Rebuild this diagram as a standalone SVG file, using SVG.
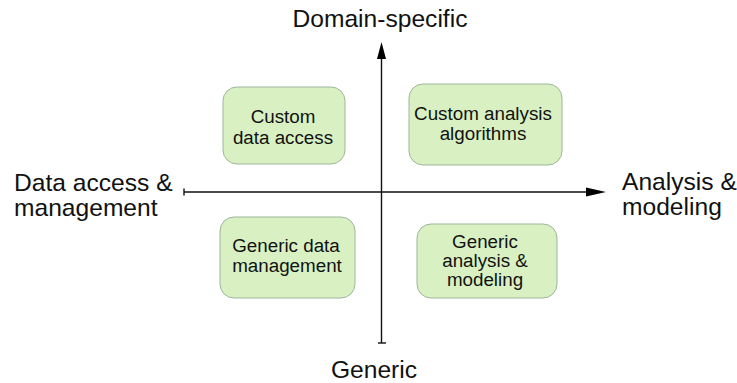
<svg xmlns="http://www.w3.org/2000/svg" width="737" height="383" viewBox="0 0 737 383">
  <style>
    .box { fill: #d9f1c2; stroke: #9db59a; stroke-width: 1; }
    .lbl { font-family: "Liberation Sans", Arial, sans-serif; font-size: 18.8px; fill: #111; text-anchor: middle; }
    .axis-lbl { font-family: "Liberation Sans", Arial, sans-serif; font-size: 24.6px; fill: #111; }
    .axis { stroke: #111; stroke-width: 1.4; fill: none; }
  </style>
  <rect width="737" height="383" fill="#ffffff"/>

  <!-- Axes -->
  <g id="connectors">
    <line class="axis" x1="184" y1="192" x2="590" y2="192"/>
    <line class="axis" x1="184" y1="188.5" x2="184" y2="195.5"/>
    <polygon points="586,187.5 606,192 586,196.5" fill="#000"/>
    <line class="axis" x1="381.5" y1="343" x2="381.5" y2="55"/>
    <line class="axis" x1="378" y1="343" x2="386" y2="343"/>
    <polygon points="377,59 381.5,42 386,59" fill="#000"/>
  </g>

  <!-- Axis labels -->
  <g id="axis-labels">
    <text class="axis-lbl" x="380" y="27" text-anchor="middle">Domain-specific</text>
    <text class="axis-lbl" x="374" y="378" text-anchor="middle">Generic</text>
    <text class="axis-lbl" x="14" y="191">Data access &amp;</text>
    <text class="axis-lbl" x="14" y="216">management</text>
    <text class="axis-lbl" x="622" y="190">Analysis &amp;</text>
    <text class="axis-lbl" x="622" y="215">modeling</text>
  </g>

  <!-- Quadrant nodes -->
  <g id="custom-data-access">
    <rect class="box" x="223" y="87" width="122" height="77" rx="14"/>
    <text class="lbl" x="283" y="123">Custom</text>
    <text class="lbl" x="283" y="144">data access</text>
  </g>
  <g id="custom-analysis">
    <rect class="box" x="409" y="84" width="153" height="81" rx="14"/>
    <text class="lbl" x="483" y="120">Custom analysis</text>
    <text class="lbl" x="483" y="140">algorithms</text>
  </g>
  <g id="generic-data-management">
    <rect class="box" x="220" y="217" width="135" height="81" rx="14"/>
    <text class="lbl" x="286" y="252">Generic data</text>
    <text class="lbl" x="287" y="272">management</text>
  </g>
  <g id="generic-analysis">
    <rect class="box" x="417" y="224" width="140" height="74" rx="14"/>
    <text class="lbl" x="485" y="248">Generic</text>
    <text class="lbl" x="485" y="267">analysis &amp;</text>
    <text class="lbl" x="485" y="286">modeling</text>
  </g>
</svg>
